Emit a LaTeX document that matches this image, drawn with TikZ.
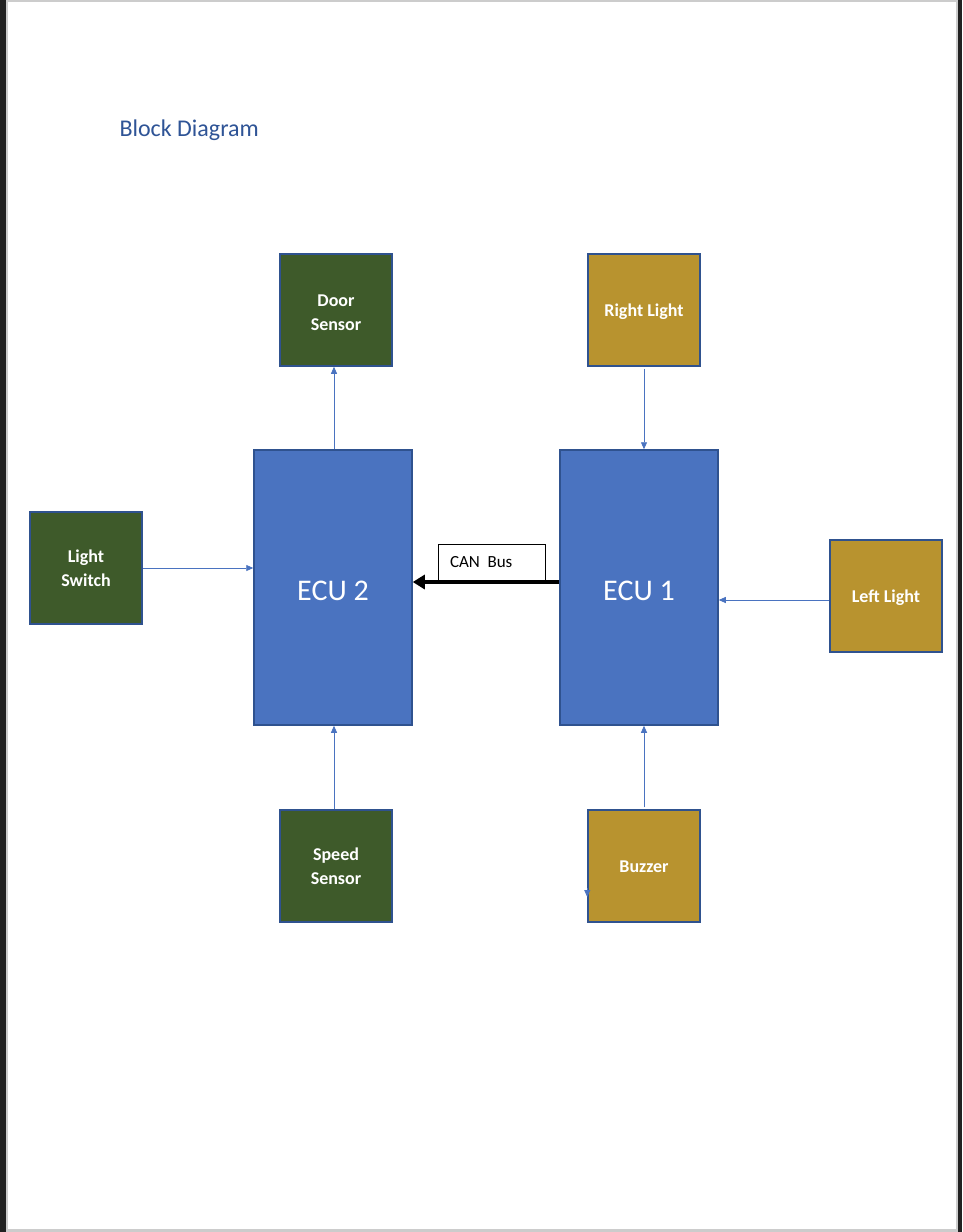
\documentclass[tikz,border=0pt]{standalone}
\usepackage{fontspec}
\setmainfont{Carlito}
\usetikzlibrary{arrows.meta}
\definecolor{ecublue}{HTML}{4A73C0}
\definecolor{edgeblue}{HTML}{2F528F}
\definecolor{sensgreen}{HTML}{3E5A2A}
\definecolor{lampgold}{HTML}{B8932F}
\definecolor{titleblue}{HTML}{2F5496}
\newcommand{\lowered}[2]{\raisebox{-#1}[\height][\depth]{#2}}
\newcommand{\twoline}[3][4pt]{\lowered{#1}{\begin{tabular}{@{}c@{}}#2\\#3\end{tabular}}}

\begin{document}
\begin{tikzpicture}[x=1pt,y=-1pt,
    unit/.style={draw=edgeblue,line width=1.5pt,inner sep=0pt,text=white,align=center},
    ecubox/.style={unit,fill=ecublue,minimum width=158pt,minimum height=275pt,font=\fontsize{30}{36}\selectfont},
    smallbox/.style={unit,minimum width=112pt,minimum height=112pt,font=\fontsize{18}{24}\selectfont\bfseries},
    sensor/.style={smallbox,fill=sensgreen},
    lamp/.style={smallbox,fill=lampgold},
    conn/.style={draw=ecublue,line width=0.8pt,-{Triangle[length=7pt,width=6pt]}},
    bus/.style={draw=black,line width=4pt,-{Triangle[length=12pt,width=14pt]}}]
  % page
  \useasboundingbox (0,0) rectangle (962,1232);
  \fill[black!20] (0,0) rectangle (962,1232);
  \fill[black!87] (0,0) rectangle (6,1232);
  \fill[black!87] (958,0) rectangle (962,1232);
  \fill[white] (8,2) rectangle (956,1229);
  \node[anchor=west,text=titleblue,font=\fontsize{24}{29}\selectfont] (title) at (116,130) {Block Diagram};
  % blocks
  \node[ecubox] (ecutwo) at (333,587.5) {\lowered{3pt}{ECU 2}};
  \node[ecubox] (ecuone) at (639,587.5) {\lowered{3pt}{ECU 1}};
  \node[sensor] (door) at (336,310) {\twoline[4pt]{Door}{Sensor}};
  \node[sensor] (lswitch) at (86,568) {\twoline[2pt]{Light}{Switch}};
  \node[sensor] (speed) at (336,866) {\twoline[2pt]{Speed}{Sensor}};
  \node[lamp] (rlight) at (644,310) {\lowered{2pt}{Right Light}};
  \node[lamp] (llight) at (886,596) {\lowered{2pt}{Left Light}};
  \node[lamp] (buzzer) at (644,866) {\lowered{1pt}{Buzzer}};
  % connectors
  \draw[conn] ([xshift=1pt]ecutwo.north) -- ([xshift=1pt]ecutwo.north |- door.south);
  \draw[conn] ([yshift=-2pt]rlight.south) -- (rlight.south |- ecuone.north);
  \draw[conn] (lswitch.east) -- (lswitch.east -| ecutwo.west);
  \draw[conn] ([yshift=-4pt]llight.west) -- ([yshift=-4pt]llight.west -| ecuone.east);
  \draw[conn] ([xshift=-2pt]speed.north) -- ([xshift=-2pt]speed.north |- ecutwo.south);
  \draw[conn] ([yshift=2pt]buzzer.north) -- (buzzer.north |- ecuone.south);
  \draw[conn] ([yshift=-22pt]buzzer.west) -- ([yshift=-31pt]buzzer.west);
  % CAN bus
  \node[draw=black,line width=0.8pt,fill=white,minimum width=107pt,minimum height=37pt,inner sep=0pt,inner xsep=12pt,text width=83pt,align=left,font=\fontsize{17}{20}\selectfont] (canlabel) at (491.5,562.5) {CAN\hspace{0.45em}Bus};
  \coordinate (busstart) at ([yshift=5.5pt]ecuone.west);
  \draw[bus] (busstart) -- (busstart -| ecutwo.east);
\end{tikzpicture}
\end{document}
